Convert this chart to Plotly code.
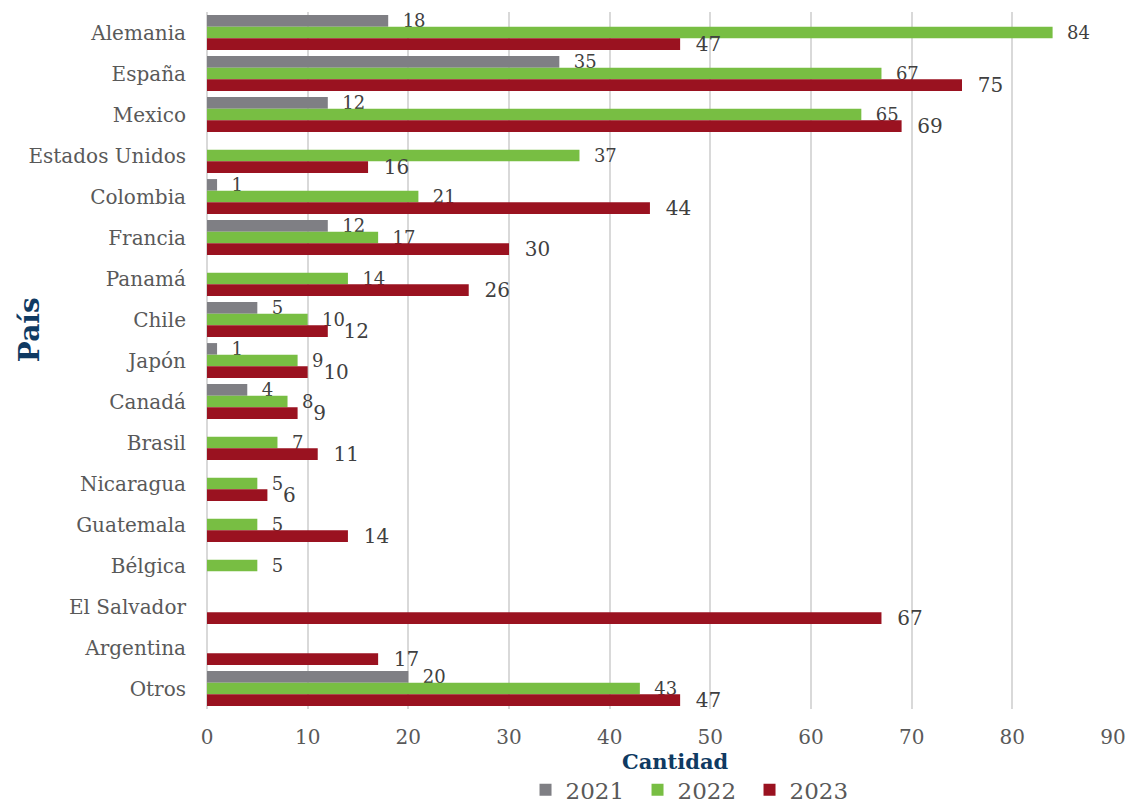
import plotly.graph_objects as go

countries = ["Alemania", "España", "Mexico", "Estados Unidos", "Colombia", "Francia",
             "Panamá", "Chile", "Japón", "Canadá", "Brasil", "Nicaragua", "Guatemala",
             "Bélgica", "El Salvador", "Argentina", "Otros"]
v2021 = [18, 35, 12, None, 1, 12, None, 5, 1, 4, None, None, None, None, None, None, 20]
v2022 = [84, 67, 65, 37, 21, 17, 14, 10, 9, 8, 7, 5, 5, 5, None, None, 43]
v2023 = [47, 75, 69, 16, 44, 30, 26, 12, 10, 9, 11, 6, 14, None, 67, 17, 47]
x_ticks = [0, 10, 20, 30, 40, 50, 60, 70, 80, 90]

FONT = "DejaVu Serif"
series = [("2021", v2021, "#7F7F84", 18), ("2022", v2022, "#78BE43", 18), ("2023", v2023, "#9A1220", 20)]

fig = go.Figure()
for name, vals, color, fs in series:
    fig.add_trace(go.Bar(
        y=countries, x=vals, name=name, orientation="h",
        marker=dict(color=color, line=dict(width=0)),
        text=["\u00a0\u00a0" + str(v) if v is not None else "" for v in vals],
        textposition="outside", constraintext="none", cliponaxis=False,
        outsidetextfont=dict(family=FONT, size=fs, color="#404040"),
    ))

fig.update_layout(
    width=1129, height=806,
    margin=dict(l=207, r=16, t=12, b=97, autoexpand=False),
    paper_bgcolor="white", plot_bgcolor="white",
    barmode="group", bargap=0.15, bargroupgap=0,
    font=dict(family=FONT, color="#595959"),
    showlegend=True,
    legend=dict(orientation="h", xanchor="center", x=0.537, yanchor="middle", y=-0.116,
                font=dict(family=FONT, size=23, color="#595959"), itemwidth=30,
                entrywidth=67, entrywidthmode="pixels",
                traceorder="normal"),
    xaxis=dict(range=[0, 90], tickvals=x_ticks, showgrid=True, gridcolor="#D9D9D9", gridwidth=2,
               zeroline=True, zerolinecolor="#D9D9D9", zerolinewidth=2, showline=False,
               automargin=False,
               tickfont=dict(family=FONT, size=20, color="#595959"), ticklabelstandoff=14),
    yaxis=dict(autorange="reversed", showgrid=False, showline=False, zeroline=False,
               automargin=False,
               tickfont=dict(family=FONT, size=20, color="#595959"), ticklabelstandoff=20),
    annotations=[
        dict(text="<b>Cantidad</b>", xref="paper", yref="paper", x=0.517, y=-0.076,
             xanchor="center", yanchor="middle", showarrow=False,
             font=dict(family=FONT, size=21, color="#0F3A62")),
        dict(text="<b>País</b>", xref="paper", yref="paper", x=-0.195, y=0.544,
             xanchor="center", yanchor="middle", showarrow=False, textangle=-90,
             font=dict(family=FONT, size=28, color="#0F3A62")),
    ],
)

fig.write_html("out.html", config={"displayModeBar": False},
               post_script="document.body.style.margin='0px';document.body.style.overflow='hidden';")
